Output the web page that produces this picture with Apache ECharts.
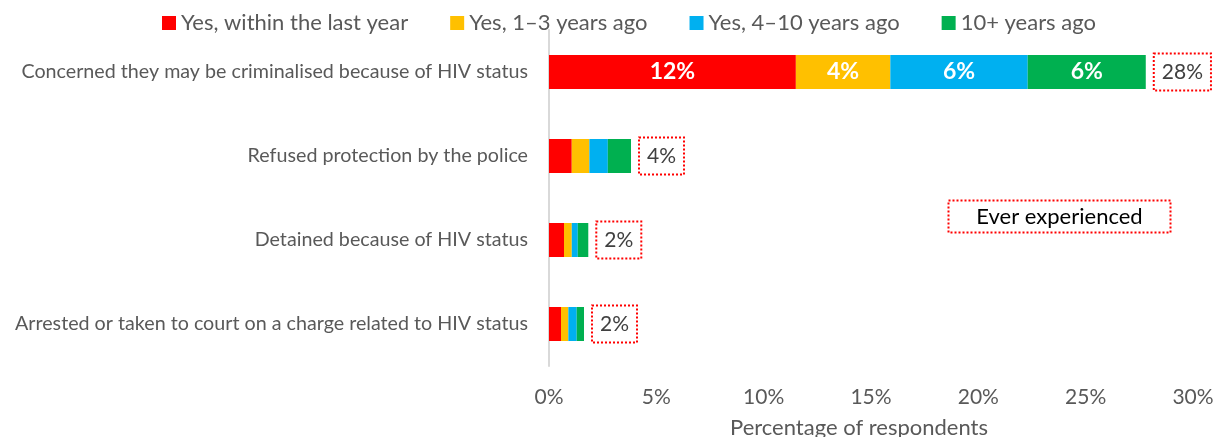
<!DOCTYPE html>
<html>
<head>
<meta charset="utf-8">
<script src="https://cdn.jsdelivr.net/npm/echarts@6/dist/echarts.min.js"></script>
<style>
  html, body { margin: 0; padding: 0; background: #fff; }
  #chart { width: 1216px; height: 437px; }
</style>
</head>
<body>
<div id="chart"></div>
<script>
// Experiences with the law and police, share of respondents (%)
const categories = [
  'Concerned they may be criminalised because of HIV status',
  'Refused protection by the police',
  'Detained because of HIV status',
  'Arrested or taken to court on a charge related to HIV status'
];
const seriesNames = [
  'Yes, within the last year',
  'Yes, 1\u20133 years ago',
  'Yes, 4\u201310 years ago',
  '10+ years ago'
];
const withinLastYear = [11.5, 1.06, 0.70, 0.56];
const oneToThreeYears = [4.4, 0.82, 0.36, 0.34];
const fourToTenYears = [6.4, 0.86, 0.28, 0.39];
const tenPlusYears = [5.5, 1.08, 0.49, 0.34];
const xTicks = [0, 5, 10, 15, 20, 25, 30];

const colors = ['#FF0000', '#FFC000', '#00B0F0', '#00B050'];
const seriesValues = [withinLastYear, oneToThreeYears, fourToTenYears, tenPlusYears];
const totals = categories.map((_, i) => seriesValues.reduce((s, arr) => s + arr[i], 0));

const FONT = 'Lato';
const BAR_W = 34;

const stacked = seriesNames.map((name, k) => ({
  name: name,
  type: 'bar',
  stack: 'experience',
  barWidth: BAR_W,
  data: seriesValues[k],
  itemStyle: { color: colors[k] },
  label: {
    show: true,
    position: 'inside',
    color: '#fff',
    fontFamily: FONT,
    fontWeight: 'bold',
    fontSize: 23,
    formatter: p => (p.value >= 2 ? Math.round(p.value) + '%' : '')
  }
}));

// Overall "ever experienced" share, drawn as an invisible bar carrying a boxed label
const totalSeries = {
  name: 'Ever experienced',
  type: 'bar',
  barWidth: BAR_W,
  barGap: '-100%',
  z: 1,
  silent: true,
  data: totals,
  itemStyle: { color: 'rgba(0,0,0,0)' },
  label: {
    show: true,
    position: 'right',
    distance: 8,
    color: '#404040',
    fontFamily: FONT,
    fontSize: 21,
    padding: [8, 8],
    borderColor: '#FF0000',
    borderWidth: 2,
    borderType: 'dotted',
    formatter: p => Math.round(p.value) + '%'
  }
};

const chart = echarts.init(document.getElementById('chart'), null, { renderer: 'canvas' });
chart.setOption({
  animation: false,
  backgroundColor: '#fff',
  textStyle: { fontFamily: FONT },
  legend: {
    data: seriesNames,
    left: 157,
    top: 7,
    itemWidth: 14,
    itemHeight: 14,
    itemGap: 42,
    icon: 'rect',
    textStyle: { color: '#595959', fontSize: 22, fontFamily: FONT }
  },
  grid: { left: 549, right: 23, top: 30, height: 336, outerBoundsMode: 'none', containLabel: false },
  xAxis: {
    type: 'value',
    min: xTicks[0],
    max: xTicks[xTicks.length - 1],
    interval: xTicks[1] - xTicks[0],
    axisLine: { show: false },
    axisTick: { show: false },
    splitLine: { show: false },
    axisLabel: { color: '#595959', fontSize: 21, margin: 21, formatter: '{value}%' },
    name: 'Percentage of respondents',
    nameLocation: 'middle',
    nameGap: 51,
    nameTextStyle: { color: '#595959', fontSize: 22, padding: [0, 24, 0, 0] }
  },
  yAxis: {
    type: 'category',
    inverse: true,
    data: categories,
    axisLine: { show: true, lineStyle: { color: '#D9D9D9', width: 2 } },
    axisTick: { show: false },
    axisLabel: { color: '#595959', fontSize: 19.7, margin: 21 }
  },
  graphic: [{
    type: 'group',
    left: 946,
    top: 198,
    children: [{
      type: 'rect',
      shape: { x: 0, y: 0, width: 222, height: 32 },
      style: { fill: 'none', stroke: '#FF0000', lineWidth: 2, lineDash: [2, 2] }
    }, {
      type: 'text',
      x: 111,
      y: 16,
      style: {
        text: 'Ever experienced',
        fill: '#000',
        font: '22px ' + FONT,
        align: 'center',
        verticalAlign: 'middle'
      }
    }]
  }],
  series: stacked.concat([totalSeries])
});
</script>
</body>
</html>
